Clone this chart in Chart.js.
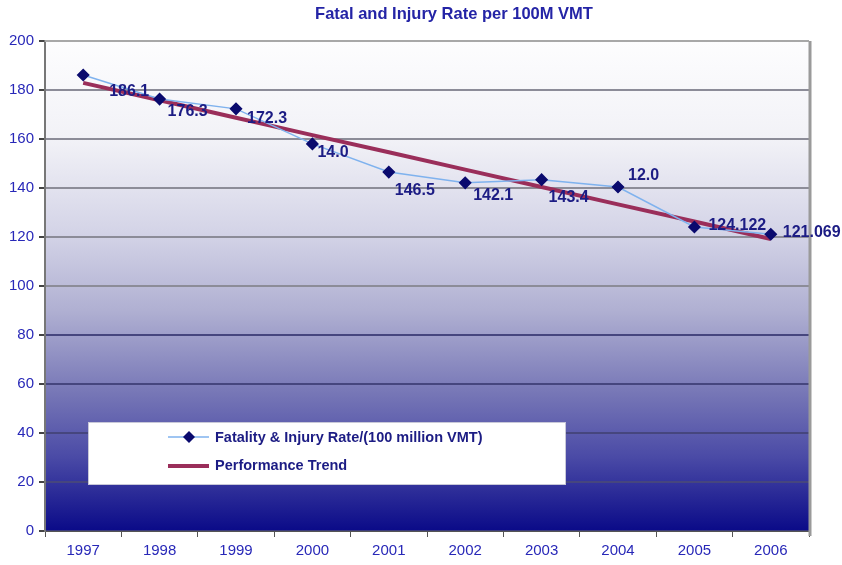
<!DOCTYPE html>
<html>
<head>
<meta charset="utf-8">
<script src="https://cdn.jsdelivr.net/npm/chart.js@4/dist/chart.umd.min.js"></script>
<style>
  body { margin: 0; background: #fff; }
  #wrap { position: relative; width: 842px; height: 565px; }
  #title {
    position: absolute; left: 454px; top: 4px; transform: translateX(-50%);
    font: bold 16.5px "Liberation Sans", Arial, sans-serif; color: #2424a6; white-space: nowrap;
  }
</style>
</head>
<body>
<div id="wrap">
  <div id="title">Fatal and Injury Rate per 100M VMT</div>
  <canvas id="chart" width="842" height="565"></canvas>
</div>
<script>
const years = ["1997", "1998", "1999", "2000", "2001", "2002", "2003", "2004", "2005", "2006"];
const rate = [186.1, 176.3, 172.3, 158.0, 146.5, 142.1, 143.4, 140.4, 124.1, 121.1];
const rateLabels = ["186.1", "176.3", "172.3", "14.0", "146.5", "142.1", "143.4", "12.0", "124.122", "121.069"];
const trend = [182.9, 175.8, 168.7, 161.6, 154.6, 147.5, 140.4, 133.3, 126.3, 119.2];
const seriesNames = ["Fatality & Injury Rate/(100 million VMT)", "Performance Trend"];

// where each label starts, relative to its point (px)
const labelShift = [[26, 17], [8, 13], [11, 10], [5, 9], [6, 19], [8, 13], [7, 18], [10, -11], [14, -1], [12, -2]];

const bgPlugin = {
  id: "bg",
  beforeDraw(chart) {
    const { ctx, chartArea: a } = chart;
    const g = ctx.createLinearGradient(0, a.top, 0, a.bottom);
    g.addColorStop(0, "#fdfdfe");
    g.addColorStop(0.2, "#f2f2f7");
    g.addColorStop(0.4, "#d2d2e6");
    g.addColorStop(0.55, "#b0b0d2");
    g.addColorStop(0.72, "#7676b6");
    g.addColorStop(0.85, "#4a4aa6");
    g.addColorStop(1, "#0a0a88");
    ctx.save();
    ctx.fillStyle = g;
    ctx.fillRect(a.left, a.top, a.right - a.left, a.bottom - a.top);
    ctx.restore();
  },
  afterDatasetsDraw(chart) {
    const { ctx, chartArea: a } = chart;
    ctx.save();
    ctx.strokeStyle = "#9a9a9a";
    ctx.lineWidth = 3;
    ctx.beginPath();
    ctx.moveTo(a.right + 1, a.top);
    ctx.lineTo(a.right + 1, a.bottom + 5);
    ctx.stroke();
    ctx.strokeStyle = "#a8a8a8";
    ctx.lineWidth = 2;
    ctx.beginPath();
    ctx.moveTo(a.left, a.top);
    ctx.lineTo(a.right, a.top);
    ctx.stroke();

    // data labels
    const meta = chart.getDatasetMeta(0);
    ctx.font = "bold 16px 'Liberation Sans', Arial, sans-serif";
    ctx.fillStyle = "#1c1c84";
    ctx.textAlign = "left";
    ctx.textBaseline = "middle";
    meta.data.forEach((p, i) => {
      ctx.fillText(rateLabels[i], p.x + labelShift[i][0], p.y + labelShift[i][1]);
    });

    // legend box
    const bx = 88, by = 422, bw = 477, bh = 62;
    ctx.fillStyle = "#ffffff";
    ctx.fillRect(bx, by, bw, bh);
    ctx.strokeStyle = "#c8c8d8";
    ctx.lineWidth = 1;
    ctx.strokeRect(bx + 0.5, by + 0.5, bw, bh);
    ctx.strokeStyle = "#7fb2ee";
    ctx.lineWidth = 1.5;
    ctx.beginPath(); ctx.moveTo(168, 437); ctx.lineTo(209, 437); ctx.stroke();
    ctx.fillStyle = "#0a0a6e";
    ctx.beginPath();
    ctx.moveTo(189, 431); ctx.lineTo(195, 437); ctx.lineTo(189, 443); ctx.lineTo(183, 437);
    ctx.closePath(); ctx.fill();
    ctx.strokeStyle = "#9a2e5a";
    ctx.lineWidth = 4;
    ctx.beginPath(); ctx.moveTo(168, 466); ctx.lineTo(209, 466); ctx.stroke();
    ctx.font = "bold 14.5px 'Liberation Sans', Arial, sans-serif";
    ctx.fillStyle = "#1c1c84";
    ctx.fillText(seriesNames[0], 215, 438);
    ctx.fillText(seriesNames[1], 215, 466);
    ctx.restore();
  }
};

new Chart(document.getElementById("chart"), {
  type: "line",
  data: {
    labels: years,
    datasets: [
      {
        label: seriesNames[0],
        data: rate,
        borderColor: "#7fb2ee",
        borderWidth: 1.5,
        pointStyle: "rectRot",
        pointRadius: 5.5,
        pointBackgroundColor: "#0a0a6e",
        pointBorderColor: "#0a0a6e",
        tension: 0
      },
      {
        label: seriesNames[1],
        data: trend,
        borderColor: "#9a2e5a",
        borderWidth: 4,
        pointRadius: 0,
        tension: 0
      }
    ]
  },
  options: {
    responsive: false,
    animation: false,
    layout: { padding: { top: 41, right: 33, left: 0, bottom: 0 } },
    plugins: {
      legend: { display: false },
      tooltip: { enabled: false },
      title: { display: false }
    },
    scales: {
      x: {
        offset: true,
        afterFit(s) { s.height = 34; },
        grid: {
          offset: true,
          drawOnChartArea: false,
          drawTicks: true,
          tickLength: 6,
          color: "#555"
        },
        border: { color: "#555", width: 1 },
        ticks: {
          color: "#2828b8",
          font: { family: "'Liberation Sans', Arial, sans-serif", size: 15 },
          padding: 5,
          maxRotation: 0
        }
      },
      y: {
        min: 0,
        max: 200,
        afterFit(s) { s.width = 45; },
        border: { color: "#777", width: 2 },
        grid: {
          color: (c) => c.tick && c.tick.value === 0 ? "#3a3a7a" : (c.tick && c.tick.value >= 100 ? "#8c8c98" : "#46467e"),
          lineWidth: 2,
          tickLength: 6,
          tickColor: "#444"
        },
        ticks: {
          stepSize: 20,
          color: "#2828b8",
          font: { family: "'Liberation Sans', Arial, sans-serif", size: 15 },
          padding: 5
        }
      }
    }
  },
  plugins: [bgPlugin]
});
</script>
</body>
</html>
